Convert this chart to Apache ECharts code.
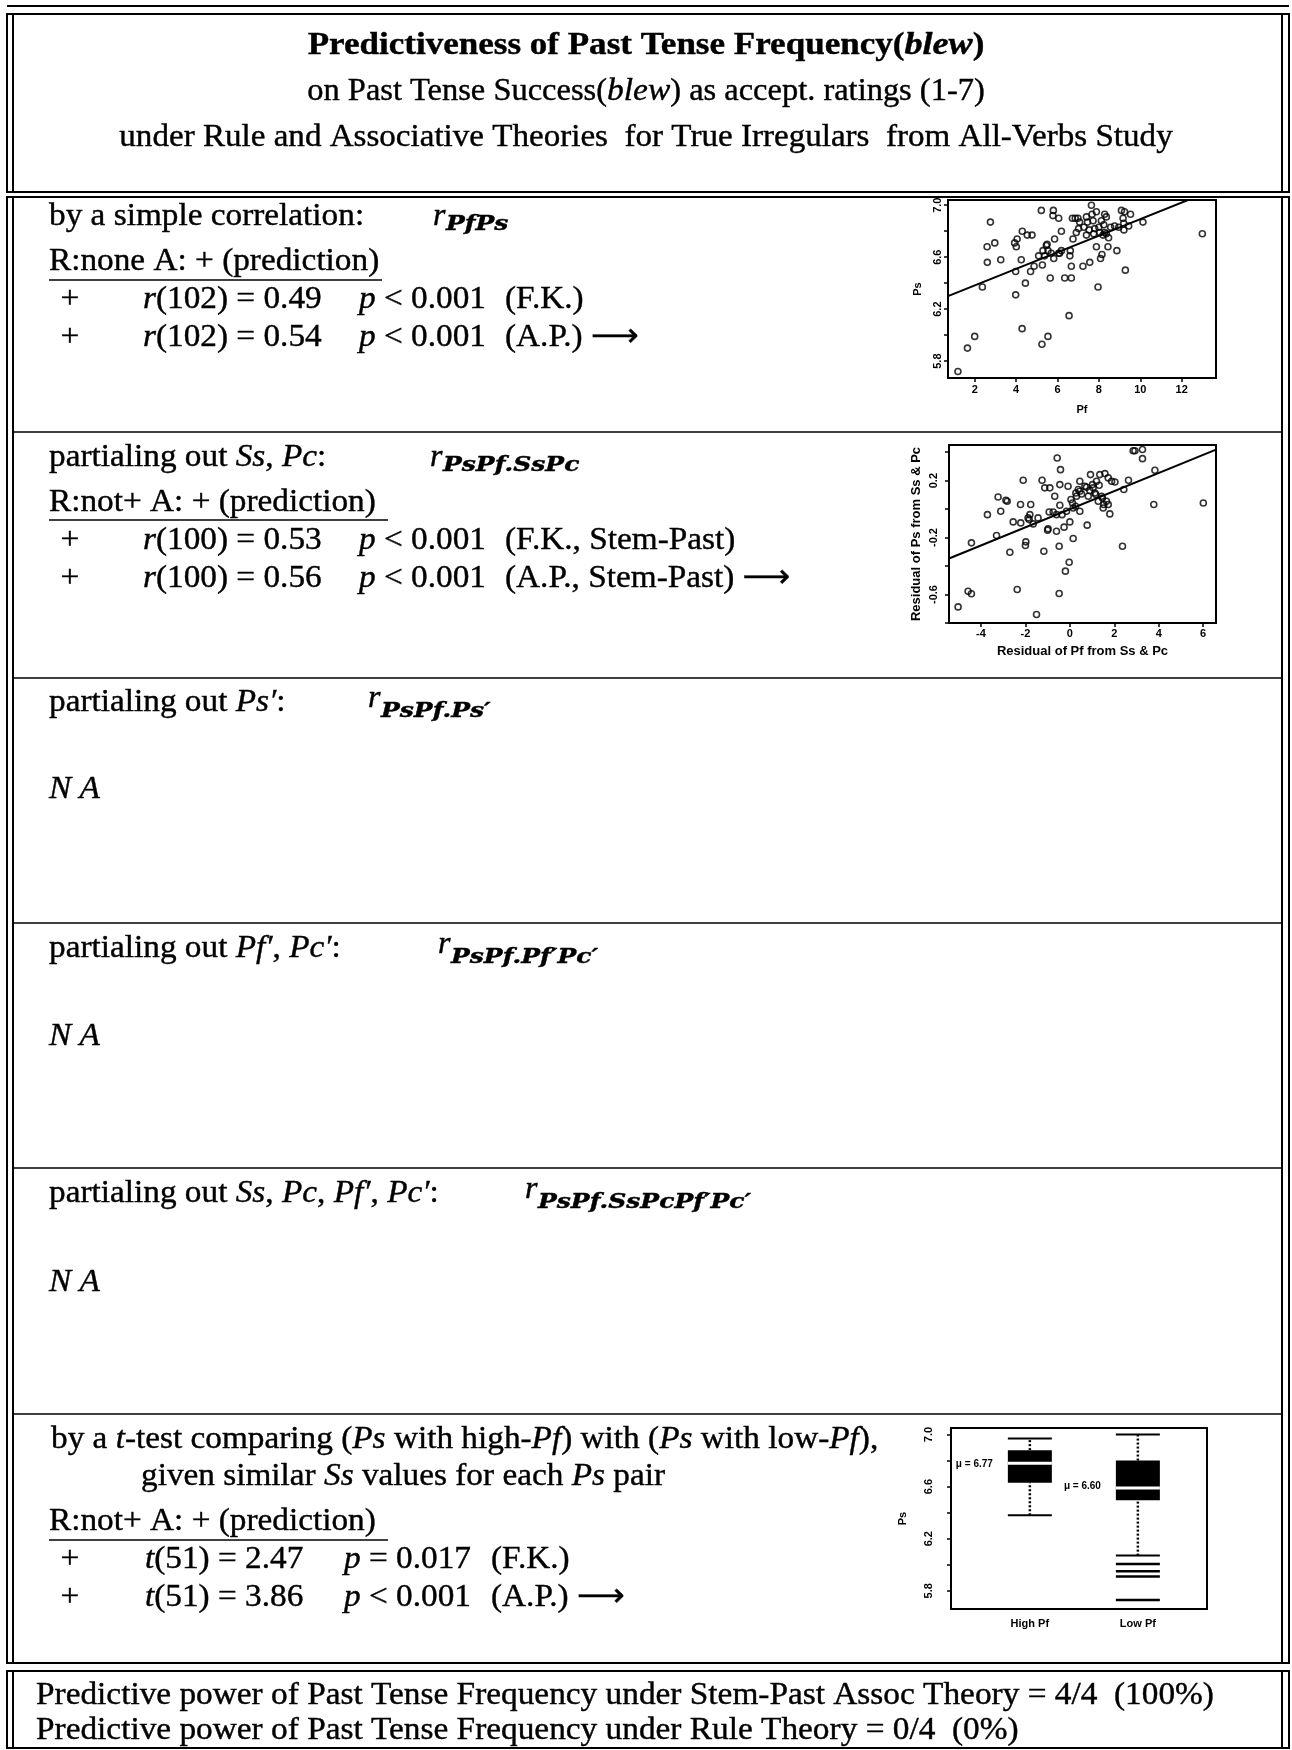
<!DOCTYPE html>
<html>
<head>
<meta charset="utf-8">
<script src="https://cdn.jsdelivr.net/npm/echarts@6/dist/echarts.min.js"></script>
<style>
  html, body { margin: 0; padding: 0; background: #fff; }
  #page { width: 1292px; height: 1750px; }
</style>
</head>
<body>
<div id="page"></div>
<script>
// --- plot 1: Pf (past tense frequency) vs Ps (past tense success)
var pfValues = [
  1.19, 1.65, 2.00, 2.37, 2.61, 2.60, 2.76, 2.97, 3.26, 3.98,
  3.98, 4.01, 4.05, 4.25, 4.29, 4.30, 4.45, 4.54, 4.77, 4.70,
  4.87, 5.22, 5.25, 5.27, 5.09, 5.30, 5.46, 5.50, 5.54, 5.65,
  5.70, 5.80, 5.78, 5.82, 5.86, 6.06, 6.06, 6.19, 6.19, 6.35,
  6.56, 6.60, 6.62, 6.67, 6.67, 6.72, 6.75, 6.86, 6.91, 7.07,
  7.23, 7.28, 7.40, 7.56, 7.64, 7.67, 7.72, 7.80, 7.88, 7.96,
  8.00, 8.08, 8.15, 8.20, 8.28, 8.36, 8.44, 8.47, 8.57, 8.76,
  8.87, 9.09, 9.17, 9.21, 9.24, 9.28, 9.44, 9.53, 10.13, 13.00,
  7.45, 7.53, 7.88, 8.12, 8.24, 7.02, 6.10, 5.54, 5.38, 8.28,
  8.04, 8.96, 8.36, 9.20, 6.99, 7.40, 3.93, 7.75
]
var psValues = [
  5.72, 5.90, 5.99, 6.37, 6.56, 6.68, 6.87, 6.71, 6.58, 6.31,
  6.49, 6.68, 6.74, 6.58, 6.05, 6.80, 6.40, 6.77, 6.77, 6.49,
  6.53, 6.96, 5.93, 6.54, 6.61, 6.65, 6.69, 6.70, 5.99, 6.44,
  6.63, 6.96, 6.92, 6.59, 6.74, 6.90, 6.63, 6.80, 6.65, 6.44,
  6.15, 6.61, 6.65, 6.53, 6.44, 6.90, 6.74, 6.90, 6.79, 6.87,
  6.53, 6.83, 6.77, 6.56, 7.00, 6.93, 6.88, 6.82, 6.68, 6.37,
  6.83, 6.59, 6.62, 6.77, 6.93, 6.91, 6.68, 6.75, 6.83, 6.84,
  6.65, 6.96, 6.90, 6.81, 6.95, 6.50, 6.84, 6.93, 6.87, 6.78,
  6.87, 6.81, 6.95, 6.88, 6.85, 6.82, 6.63, 6.65, 6.61, 6.79,
  6.79, 6.83, 6.78, 6.86, 6.90, 6.91, 6.71, 6.78
]
var fit1X = [0.71, 13.66]
var fit1Y = [6.30, 7.126]
var pfTicks = [2, 4, 6, 8, 10, 12]
var psTicks = [5.8, 6.0, 6.2, 6.4, 6.6, 6.8, 7.0]
var psLabels = [5.8, 6.2, 6.6, 7.0]

// --- plot 2: residuals after partialing out Ss & Pc
var resPf = [
  -5.03, -4.58, -4.43, -4.43, -3.71, -3.30, -3.23, -3.11, -2.88, -2.82,
  -2.70, -2.55, -2.37, -2.22, -2.21, -2.10, -2.00, -1.88, -1.80, -1.76,
  -1.65, -1.50, -1.43, -1.25, -1.17, -1.13, -0.90, -0.98, -0.93, -0.75,
  -0.68, -0.57, -0.60, -0.48, -0.48, -0.45, -0.42, -0.45, -0.35, -0.26,
  -0.20, -0.08, -0.03, 0.00, 0.05, 0.15, 0.15, 0.27, 0.38, 0.45,
  0.45, 0.68, 0.78, 0.83, 0.93, 1.02, 1.13, 1.20, 1.32, 1.43,
  1.50, 1.58, 1.73, 1.80, 1.88, 2.03, 2.37, 2.43, 2.64, 2.85,
  2.93, 3.27, 3.27, 3.78, 3.83, 6.01, 0.30, 0.53, 1.05, 1.28,
  1.65, 1.53, -0.15, -1.83, -1.00, 0.26, 0.90, 1.47, 1.73, 0.45,
  -0.60, 1.35, 1.17, -1.98, 0.12, 0.75
]
var resPs = [
  -0.687, -0.577, -0.595, -0.237, -0.039, -0.186, 0.085, -0.015, 0.062, 0.055,
  -0.303, -0.090, -0.565, 0.032, -0.097, 0.202, -0.256, -0.062, -0.039, 0.032,
  -0.104, -0.740, -0.062, 0.202, -0.296, 0.149, 0.149, -0.139, -0.020, -0.020,
  0.090, 0.359, -0.156, -0.261, -0.593, 0.172, 0.277, 0.027, -0.039, -0.127,
  -0.436, 0.160, -0.373, -0.090, 0.067, -0.207, 0.008, 0.113, 0.137, -0.015,
  0.195, 0.160, -0.113, 0.090, 0.242, 0.172, 0.113, 0.195, 0.167, 0.090,
  0.008, 0.249, 0.219, -0.034, 0.195, 0.190, -0.261, 0.137, 0.202, 0.410,
  0.410, 0.418, 0.354, 0.032, 0.273, 0.043, 0.090, 0.106, 0.149, 0.055,
  0.055, 0.032, -0.015, -0.074, -0.148, 0.020, 0.130, 0.078, 0.032, 0.125,
  -0.039, 0.242, 0.102, -0.230, 0.043, 0.153
]
var fit2X = [-5.44, 6.58]
var fit2Y = [-0.347, 0.418]
var resPfTicks = [-4, -2, 0, 2, 4, 6]
var resPsTicks = [-0.8, -0.6, -0.4, -0.2, 0.0, 0.2, 0.4]
var resPsLabels = [-0.6, -0.2, 0.2]

// --- plot 3: box plots of Ps for high / low Pf
var boxCategories = ['High Pf', 'Low Pf']
var boxMin = [6.38, 6.07]
var boxQ1 = [6.63, 6.495]
var boxMedian = [6.78, 6.59]
var boxQ3 = [6.88, 6.80]
var boxMax = [6.97, 7.00]
var boxMeans = [6.77, 6.60]
var lowPfOutliers = [6.005, 5.95, 5.91, 5.73]
var boxPsTicks = [5.8, 6.0, 6.2, 6.4, 6.6, 6.8, 7.0]
var boxPsLabels = [5.8, 6.2, 6.6, 7.0]

var SERIF = '"Liberation Serif", "Times New Roman", serif'
var SANS = '"Liberation Sans", Arial, sans-serif'
var FS = 32
var ROW_SX = 1.04
var RICH = {
  i: { font: 'italic ' + FS + 'px ' + SERIF },
  b: { font: 'bold ' + FS + 'px ' + SERIF },
  bi: { font: 'bold italic ' + FS + 'px ' + SERIF },
  ar: { font: FS + 'px "DejaVu Sans"' }
}

function txt(x, y, text, font, align, sx) {
  return {
    type: 'text', x: x, y: y, silent: true,
    scaleX: sx || ROW_SX,
    style: {
      text: text,
      font: font || (FS + 'px ' + SERIF),
      fill: '#000',
      stroke: '#000',
      lineWidth: 0.4,
      textAlign: align || 'left',
      textVerticalAlign: 'middle',
      rich: RICH
    }
  }
}
function line(x1, y1, x2, y2, w) {
  return {
    type: 'line', silent: true,
    shape: { x1: x1, y1: y1, x2: x2, y2: y2 },
    style: { stroke: '#000', lineWidth: w || 2 }
  }
}
function frame(y1, y2) {
  return [
    { type: 'rect', silent: true, shape: { x: 7, y: y1, width: 1282, height: y2 - y1 },
      style: { fill: 'none', stroke: '#000', lineWidth: 2 } },
    line(13, y1, 13, y2, 2),
    line(1282, y1, 1282, y2, 2)
  ]
}
// r with a subscript
function rSub(x, y, sub, drop) {
  return [
    txt(x, y, 'r', 'italic ' + FS + 'px ' + SERIF, 'left', 1),
    txt(x + 13, y + drop, sub, 'bold italic 20px "DejaVu Serif"', 'left', 1.25)
  ]
}

var rows = [197, 432, 678, 923, 1168, 1414, 1663]
var graphics = []
graphics.push(line(7, 6, 1289, 6, 2))
graphics = graphics.concat(frame(14, 192), frame(197, 1663), frame(1671, 1748))
for (var k = 1; k < rows.length - 1; k++) {
  graphics.push(line(13, rows[k], 1282, rows[k], 1.5))
}

// header
graphics.push(txt(646, 46, 'Predictiveness of Past Tense Frequency({bi|blew})', 'bold 31px ' + SERIF, 'center', 1.13))
graphics.push(txt(646, 92, 'on Past Tense Success({i|blew}) as accept. ratings (1-7)', '31px ' + SERIF, 'center', 1.047))
graphics.push(txt(646, 138, 'under Rule and Associative Theories  for True Irregulars  from All-Verbs Study', '31px ' + SERIF, 'center', 1.067))

// row 1
graphics.push(txt(49, 217, 'by a simple correlation:'))
graphics = graphics.concat(rSub(433, 217, 'PfPs', 8))
graphics.push(txt(49, 262, 'R:none A: + (prediction)'))
graphics.push(line(49, 280, 382, 280, 1.5))
graphics.push(txt(70, 300, '+', null, 'center'))
graphics.push(txt(143, 300, '{i|r}(102) = 0.49'))
graphics.push(txt(359, 300, '{i|p} < 0.001'))
graphics.push(txt(505, 300, '(F.K.)'))
graphics.push(txt(70, 338, '+', null, 'center'))
graphics.push(txt(143, 338, '{i|r}(102) = 0.54'))
graphics.push(txt(359, 338, '{i|p} < 0.001'))
graphics.push(txt(505, 338, '(A.P.) {ar|⟶}'))

// row 2
graphics.push(txt(49, 458, 'partialing out {i|Ss}, {i|Pc}:'))
graphics = graphics.concat(rSub(430, 458, 'PsPf.SsPc', 8))
graphics.push(txt(49, 503, 'R:not+ A: + (prediction)'))
graphics.push(line(49, 520, 388, 520, 1.5))
graphics.push(txt(70, 541, '+', null, 'center'))
graphics.push(txt(143, 541, '{i|r}(100) = 0.53'))
graphics.push(txt(359, 541, '{i|p} < 0.001'))
graphics.push(txt(505, 541, '(F.K., Stem-Past)'))
graphics.push(txt(70, 579, '+', null, 'center'))
graphics.push(txt(143, 579, '{i|r}(100) = 0.56'))
graphics.push(txt(359, 579, '{i|p} < 0.001'))
graphics.push(txt(505, 579, '(A.P., Stem-Past) {ar|⟶}'))

// rows 3-5
graphics.push(txt(49, 703, 'partialing out {i|Ps′}:'))
graphics = graphics.concat(rSub(368, 699, 'PsPf.Ps′', 13))
graphics.push(txt(49, 790, '{i|N A}'))
graphics.push(txt(49, 949, 'partialing out {i|Pf′}, {i|Pc′}:'))
graphics = graphics.concat(rSub(438, 945, 'PsPf.Pf′Pc′', 13))
graphics.push(txt(49, 1037, '{i|N A}'))
graphics.push(txt(49, 1194, 'partialing out {i|Ss}, {i|Pc}, {i|Pf′}, {i|Pc′}:'))
graphics = graphics.concat(rSub(525, 1190, 'PsPf.SsPcPf′Pc′', 13))
graphics.push(txt(49, 1283, '{i|N A}'))

// row 6
graphics.push(txt(51, 1440, 'by a {i|t}-test comparing ({i|Ps} with high-{i|Pf}) with ({i|Ps} with low-{i|Pf}),'))
graphics.push(txt(141, 1477, 'given similar {i|Ss} values for each {i|Ps} pair'))
graphics.push(txt(49, 1522, 'R:not+ A: + (prediction)'))
graphics.push(line(49, 1540, 388, 1540, 1.5))
graphics.push(txt(70, 1560, '+', null, 'center'))
graphics.push(txt(145, 1560, '{i|t}(51) = 2.47'))
graphics.push(txt(344, 1560, '{i|p} = 0.017'))
graphics.push(txt(491, 1560, '(F.K.)'))
graphics.push(txt(70, 1598, '+', null, 'center'))
graphics.push(txt(145, 1598, '{i|t}(51) = 3.86'))
graphics.push(txt(344, 1598, '{i|p} < 0.001'))
graphics.push(txt(491, 1598, '(A.P.) {ar|⟶}'))

// bottom summary
graphics.push(txt(36, 1696, 'Predictive power of Past Tense Frequency under Stem-Past Assoc Theory = 4/4  (100%)', '31px ' + SERIF, 'left', 1.075))
graphics.push(txt(36, 1731, 'Predictive power of Past Tense Frequency under Rule Theory = 0/4  (0%)', '31px ' + SERIF, 'left', 1.075))

var tickFont = { color: '#000', fontFamily: SANS, fontWeight: 'bold', fontSize: 11 }

function axis(gridIndex, min, max, ticks, labels, o) {
  return {
    gridIndex: gridIndex,
    type: 'value',
    min: min,
    max: max,
    axisLine: { show: false, onZero: false },
    splitLine: { show: false },
    axisTick: { show: o.tick !== false, length: 4, lineStyle: { color: '#000', width: 1.5 }, customValues: ticks },
    axisLabel: Object.assign({
      customValues: labels,
      margin: o.margin,
      rotate: o.rotate || 0,
      formatter: o.fmt || function (v) { return v.toFixed(1) }
    }, tickFont),
    name: o.name,
    nameLocation: 'middle',
    nameGap: o.gap,
    nameRotate: o.rotate || 0,
    nameTextStyle: { color: '#000', fontFamily: SANS, fontWeight: 'bold', fontSize: o.nameSize || 11 }
  }
}

var gridStyle = { show: true, borderColor: '#000', borderWidth: 2, backgroundColor: 'rgba(0,0,0,0)' }

function pairs(xs, ys) {
  return xs.map(function (x, i) { return [x, ys[i]] })
}

var scatterStyle = {
  type: 'scatter', symbol: 'circle', symbolSize: 6,
  itemStyle: { color: 'rgba(0,0,0,0)', borderColor: '#000', borderWidth: 1.6 },
  silent: true
}

var boxData = boxCategories.map(function (c, i) {
  return [i + 1, boxMin[i], boxQ1[i], boxMedian[i], boxQ3[i], boxMax[i], boxMeans[i]]
})

function renderBox(params, api) {
  var x = api.value(0)
  var half = 22
  var pMin = api.coord([x, api.value(1)])
  var pQ1 = api.coord([x, api.value(2)])
  var pMed = api.coord([x, api.value(3)])
  var pQ3 = api.coord([x, api.value(4)])
  var pMax = api.coord([x, api.value(5)])
  var pMean = api.coord([x, api.value(6)])
  var cx = pMin[0]
  var dotted = { stroke: '#000', lineWidth: 2.5, lineDash: [2, 2] }
  var solid = { stroke: '#000', lineWidth: 2 }
  return {
    type: 'group',
    children: [
      { type: 'line', shape: { x1: cx, y1: pQ3[1], x2: cx, y2: pMax[1] }, style: dotted },
      { type: 'line', shape: { x1: cx, y1: pMin[1], x2: cx, y2: pQ1[1] }, style: dotted },
      { type: 'line', shape: { x1: cx - half, y1: pMax[1], x2: cx + half, y2: pMax[1] }, style: solid },
      { type: 'line', shape: { x1: cx - half, y1: pMin[1], x2: cx + half, y2: pMin[1] }, style: solid },
      { type: 'rect', shape: { x: cx - half, y: pQ3[1], width: half * 2, height: pQ1[1] - pQ3[1] }, style: { fill: '#000' } },
      { type: 'line', shape: { x1: cx - half, y1: pMed[1], x2: cx + half, y2: pMed[1] }, style: { stroke: '#fff', lineWidth: 3 } },
      { type: 'text', x: cx - half - 15, y: pMean[1],
        style: { text: 'μ = ' + api.value(6).toFixed(2), textAlign: 'right', textVerticalAlign: 'middle',
          font: 'bold 10px ' + SANS, fill: '#000' } }
    ]
  }
}

function renderOutlier(params, api) {
  var p = api.coord([api.value(0), api.value(1)])
  return {
    type: 'line',
    shape: { x1: p[0] - 22, y1: p[1], x2: p[0] + 22, y2: p[1] },
    style: { stroke: '#000', lineWidth: 2.5 }
  }
}

var chart = echarts.init(document.getElementById('page'), null, { renderer: 'canvas' })
chart.setOption({
  backgroundColor: '#fff',
  animation: false,
  graphic: { elements: graphics },
  grid: [
    Object.assign({ left: 948, top: 200, width: 268, height: 178 }, gridStyle),
    Object.assign({ left: 949, top: 445, width: 267, height: 178 }, gridStyle),
    Object.assign({ left: 951, top: 1428, width: 256, height: 181 }, gridStyle)
  ],
  xAxis: [
    axis(0, 0.71, 13.66, pfTicks, pfTicks, { margin: 6, name: 'Pf', gap: 26, fmt: function (v) { return String(v) } }),
    axis(1, -5.44, 6.58, resPfTicks, resPfTicks, { margin: 5, name: 'Residual of Pf from Ss & Pc', gap: 22, nameSize: 13, fmt: function (v) { return String(v) } }),
    axis(2, 0.27, 2.64, [1, 2], [1, 2], { margin: 9, tick: false, fmt: function (v) { return boxCategories[Math.round(v) - 1] } })
  ],
  yAxis: [
    axis(0, 5.67, 7.04, psTicks, psLabels, { margin: 5, rotate: 90, name: 'Ps', gap: 25 }),
    axis(1, -0.80, 0.45, resPsTicks, resPsLabels, { margin: 10, rotate: 90, name: 'Residual of Ps from Ss & Pc', gap: 26, nameSize: 13 }),
    axis(2, 5.66, 7.05, boxPsTicks, boxPsLabels, { margin: 17, rotate: 90, name: 'Ps', gap: 43 })
  ],
  series: [
    Object.assign({ xAxisIndex: 0, yAxisIndex: 0, data: pairs(pfValues, psValues) }, scatterStyle),
    {
      type: 'line', xAxisIndex: 0, yAxisIndex: 0, data: pairs(fit1X, fit1Y),
      showSymbol: false, silent: true, clip: true,
      lineStyle: { color: '#000', width: 2 }
    },
    Object.assign({ xAxisIndex: 1, yAxisIndex: 1, data: pairs(resPf, resPs) }, scatterStyle),
    {
      type: 'line', xAxisIndex: 1, yAxisIndex: 1, data: pairs(fit2X, fit2Y),
      showSymbol: false, silent: true, clip: true,
      lineStyle: { color: '#000', width: 2 }
    },
    {
      type: 'custom', xAxisIndex: 2, yAxisIndex: 2, silent: true,
      renderItem: renderBox, data: boxData
    },
    {
      type: 'custom', xAxisIndex: 2, yAxisIndex: 2, silent: true,
      renderItem: renderOutlier,
      data: lowPfOutliers.map(function (v) { return [2, v] })
    }
  ]
})
</script>
</body>
</html>
